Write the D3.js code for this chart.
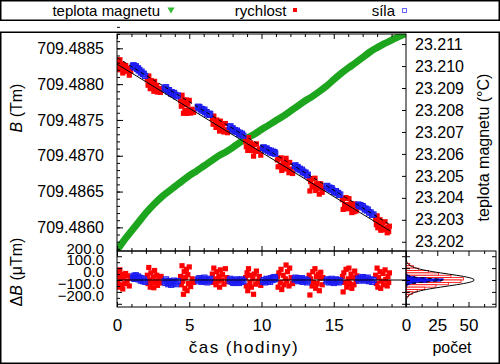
<!DOCTYPE html>
<html>
<head>
<meta charset="utf-8">
<script src="https://cdn.jsdelivr.net/npm/d3@7"></script>
<style>
  body { margin: 0; background: #fff; }
  svg { display: block; font-family: "Liberation Sans", Arial, sans-serif; }
</style>
</head>
<body>
<svg id="chart" width="500" height="364"></svg>
<script>
// --- data ---
const timeTicks  = [0, 5, 10, 15];
const bTicks     = [709.4860, 709.4865, 709.4870, 709.4875, 709.4880, 709.4885];
const tempTicks  = [23.202, 23.203, 23.204, 23.205, 23.206, 23.207, 23.208, 23.209, 23.210, 23.211];
const residTicks = [200, 100, 0, -100, -200];
const countTicks = [0, 25, 50];

// magnet temperature (hours, °C)
const tempTime = [0, 0.5, 1, 1.5, 2, 2.5, 3, 3.5, 4, 4.5, 5, 5.5, 6, 6.5, 7, 7.5, 8, 8.5, 9, 9.5,
  10, 10.5, 11, 11.5, 12, 12.5, 13, 13.5, 14, 14.5, 15, 15.5, 16, 16.5, 17, 17.5, 18, 18.5, 19, 19.5, 20];
const tempValue = [23.20162, 23.20208, 23.20249, 23.20290, 23.20331, 23.20367, 23.20399, 23.20426,
  23.20451, 23.20476, 23.20501, 23.20522, 23.20545, 23.20567, 23.20590, 23.20608, 23.20629, 23.20652,
  23.20672, 23.20690, 23.20711, 23.20731, 23.20752, 23.20772, 23.20795, 23.20818, 23.20841, 23.20861,
  23.20884, 23.20909, 23.20938, 23.20966, 23.20991, 23.21014, 23.21039, 23.21064, 23.21084, 23.21102,
  23.21118, 23.21134, 23.21148];

// linear fits of B (hours, Tm)
const fitSpeed = [[0, 709.48828], [18.9, 709.48595]];   // solid
const fitForce = [[0, 709.48837], [18.8, 709.48605]];   // dashed

// "rychlost" points: [hours, residual in µTm]
const speedPoints = [
  [0.00, 60], [0.05, -20], [0.10, 30], [0.15, -60], [0.20, 85], [0.25, 10], [0.30, -40], [0.35, 45],
  [0.40, -75], [0.45, 20], [0.55, -30], [0.60, 55], [0.70, -10], [0.75, 35], [0.85, -50], [0.95, 15],
  [2.10, 40], [2.15, -30], [2.20, 105], [2.25, 0], [2.30, -60], [2.35, 60], [2.45, -20], [2.50, 25],
  [2.55, -65], [2.60, 80], [2.70, -10], [2.75, 40], [2.80, -45], [2.90, 15], [3.00, -25], [3.05, 30],
  [4.40, 30], [4.45, -40], [4.50, 120], [4.55, -10], [4.60, -120], [4.65, 70], [4.70, -70], [4.75, 20],
  [4.80, 90], [4.85, -90], [4.90, 45], [4.95, -30], [5.00, 110], [5.10, -55], [5.20, 10], [5.30, -20],
  [6.60, 50], [6.65, -20], [6.70, 100], [6.80, 10], [6.85, -40], [6.90, 70], [7.00, -10], [7.05, 30],
  [7.10, -60], [7.15, 85], [7.25, 0], [7.30, 45], [7.40, -35], [7.50, 95], [7.60, 20], [7.65, -15],
  [8.90, 20], [8.95, -50], [9.00, 60], [9.05, -90], [9.10, 95], [9.20, -20], [9.25, 40], [9.30, -60],
  [9.40, 10], [9.45, -120], [9.50, 50], [9.60, -35], [9.65, 75], [9.75, -10], [9.85, 30], [9.95, -45],
  [11.10, 30], [11.15, -60], [11.20, 60], [11.30, -20], [11.35, 90], [11.40, -80], [11.50, 40], [11.55, -40],
  [11.65, 10], [11.70, 126], [11.75, -10], [11.80, 70], [11.90, -50], [11.95, 100], [12.05, 20], [12.15, -30],
  [13.30, 40], [13.35, -126], [13.40, 10], [13.50, -50], [13.55, 70], [13.60, -20], [13.70, 95], [13.75, -70],
  [13.80, 30], [13.85, -30], [13.95, 50], [14.00, -90], [14.05, 15], [14.10, 65], [14.20, -40], [14.25, 20],
  [15.60, 30], [15.65, -100], [15.70, 60], [15.75, -20], [15.85, 90], [15.90, -60], [16.00, 10], [16.05, 100],
  [16.10, -30], [16.20, 50], [16.25, -70], [16.30, 20], [16.40, -40], [16.45, 75], [16.55, -10], [16.60, 35],
  [17.90, 40], [17.95, -30], [18.00, 100], [18.05, -60], [18.10, 20], [18.20, 70], [18.25, -70], [18.30, -10],
  [18.40, 55], [18.45, -40], [18.55, 85], [18.60, 5], [18.70, -50], [18.75, 30], [18.80, -20], [18.85, 60]
];

// "síla" points: [hours, residual in µTm]
const forcePoints = [
  [1.10, 20], [1.15, 35], [1.20, 10], [1.25, 25], [1.30, 40], [1.40, 15], [1.45, 30], [1.50, 5],
  [1.55, 20], [1.65, -5], [1.70, 15], [1.80, -10], [1.85, 5], [1.95, -15],
  [3.30, -10], [3.35, -25], [3.40, 5], [3.50, -20], [3.55, -35], [3.60, -10], [3.70, -25], [3.75, -40],
  [3.80, -15], [3.90, -30], [3.95, -5], [4.05, -20], [4.10, -35], [4.20, -10],
  [5.60, 5], [5.65, -10], [5.70, 15], [5.80, 0], [5.85, -15], [5.90, 10], [6.00, -5], [6.05, 20],
  [6.10, -10], [6.20, 5], [6.25, -20], [6.35, 0], [6.40, -10], [6.45, 10],
  [7.80, -5], [7.85, 10], [7.95, -15], [8.00, 0], [8.05, -25], [8.15, -5], [8.20, -20], [8.30, 5],
  [8.35, -10], [8.45, -25], [8.50, 0], [8.60, -15], [8.65, 5], [8.75, -10],
  [10.10, -15], [10.15, 0], [10.25, -20], [10.30, -5], [10.35, 10], [10.45, -10], [10.50, 5], [10.60, -15],
  [10.65, 15], [10.75, 0], [10.80, 20], [10.85, 5], [10.90, 25], [10.95, 10],
  [12.30, 5], [12.35, 20], [12.45, 0], [12.50, 15], [12.55, -10], [12.65, 10], [12.70, -5], [12.80, 15],
  [12.85, -15], [12.90, 0], [13.00, -10], [13.05, 5], [13.15, -20], [13.20, -5],
  [14.50, -10], [14.55, 5], [14.65, -20], [14.70, 0], [14.80, -15], [14.85, 10], [14.90, -5], [15.00, -25],
  [15.05, -10], [15.15, 5], [15.20, -15], [15.30, 0], [15.35, -20], [15.45, -5],
  [16.70, 10], [16.75, -5], [16.85, 20], [16.90, 5], [17.00, 25], [17.05, 10], [17.15, -5], [17.20, 15],
  [17.30, 0], [17.35, 20], [17.45, -10], [17.55, 5], [17.65, -15], [17.75, 0]
];

// histograms of residuals (bin centre µTm, count)
const speedBinCenter = [130, 110, 90, 70, 50, 30, 10, -10, -30, -50, -70, -90, -110, -130];
const speedBinCount  = [3, 6, 10, 18, 26, 36, 46, 44, 34, 24, 15, 9, 5, 2];
const forceBinCenter = [45, 35, 25, 15, 5, -5, -15, -25, -35, -45];
const forceBinCount  = [1, 3, 7, 16, 30, 28, 17, 8, 3, 1];

// gaussian fits drawn over the histograms (µTm, count)
const speedGaussR     = [-200, -180, -160, -140, -120, -100, -80, -60, -40, -20, 0, 20, 40, 60, 80, 100, 120, 140, 160, 180, 200];
const speedGaussCount = [0.02, 0.08, 0.3, 1.1, 3.1, 7.6, 15.6, 27.3, 40.7, 51.7, 56, 51.7, 40.7, 27.3, 15.6, 7.6, 3.1, 1.1, 0.3, 0.08, 0.02];
const forceGaussR     = [-50, -40, -30, -20, -10, 0, 10, 20, 30, 40, 50];
const forceGaussCount = [0, 0.4, 3, 10.5, 24, 32, 24, 10.5, 3, 0.4, 0];

// --- layout ---
const FONT = '"Liberation Sans", Arial, sans-serif';
const P = { l: 117, r: 406, t: 34, m: 251, b: 307, hr: 496 };

const svg = d3.select("#chart");

const x  = d3.scaleLinear().domain([0, 20]).range([P.l, P.r]);
const yB = d3.scaleLinear().domain([709.48567, 709.48870]).range([P.m, P.t]);
const yT = d3.scaleLinear().domain([23.20158, 23.21146]).range([P.m, P.t]);
const yR = d3.scaleLinear().domain([-227, 244]).range([P.b, P.m]);
const xH = d3.scaleLinear().domain([0, 72]).range([P.r, P.hr]);

// value of a 2-point fit line at time t
function fitAt(fit, t) {
  const [[t0, v0], [t1, v1]] = fit;
  return v0 + (v1 - v0) * (t - t0) / (t1 - t0);
}

// outer boxes
svg.append("rect").attr("x", 0.75).attr("y", 0.75).attr("width", 498.5).attr("height", 19.5)
  .attr("fill", "none").attr("stroke", "#000").attr("stroke-width", 1.5);
svg.append("rect").attr("x", 0.75).attr("y", 32.25).attr("width", 498.5).attr("height", 331)
  .attr("fill", "none").attr("stroke", "#000").attr("stroke-width", 1.5);

// legend
const legend = svg.append("g").attr("font-size", 15).attr("font-family", FONT);
legend.append("text").attr("x", 160).attr("y", 15.5).attr("text-anchor", "end").text("teplota magnetu");
legend.append("path").attr("transform", "translate(171,9.5) rotate(180)")
  .attr("d", d3.symbol(d3.symbolTriangle, 22)()).attr("fill", "#33bb33");
legend.append("text").attr("x", 286.5).attr("y", 15.5).attr("text-anchor", "end").text("rychlost");
legend.append("rect").attr("x", 293).attr("y", 8).attr("width", 4).attr("height", 4).attr("fill", "#ff0000");
legend.append("text").attr("x", 395).attr("y", 15.5).attr("text-anchor", "end").text("síla");
legend.append("rect").attr("x", 402.5).attr("y", 8.5).attr("width", 4).attr("height", 4)
  .attr("fill", "none").attr("stroke", "#6666ff").attr("stroke-width", 1);

// clip paths
const defs = svg.append("defs");
defs.append("clipPath").attr("id", "clipMain").append("rect")
  .attr("x", P.l).attr("y", P.t).attr("width", P.r - P.l).attr("height", P.m - P.t);
defs.append("clipPath").attr("id", "clipRes").append("rect")
  .attr("x", P.l).attr("y", P.m).attr("width", P.r - P.l).attr("height", P.b - P.m);
defs.append("clipPath").attr("id", "clipHist").append("rect")
  .attr("x", P.r).attr("y", P.m).attr("width", P.hr - P.r).attr("height", P.b - P.m);

// --- main panel ---
const main = svg.append("g").attr("clip-path", "url(#clipMain)");

const tempData = tempTime.map((t, i) => [t, tempValue[i]]);
main.append("path").datum(tempData)
  .attr("fill", "none").attr("stroke", "#1ea51e").attr("stroke-width", 7)
  .attr("d", d3.line().x(d => x(d[0])).y(d => yT(d[1])).curve(d3.curveMonotoneX));

const SQ = 5.2;
const BLUE_FILL = "rgba(40,40,255,0.55)";
main.append("g").selectAll("rect").data(speedPoints).join("rect")
  .attr("x", d => x(d[0]) - SQ / 2)
  .attr("y", d => yB(fitAt(fitSpeed, d[0]) + d[1] * 1e-6) - SQ / 2)
  .attr("width", SQ).attr("height", SQ).attr("fill", "#ff0000");

main.append("g").selectAll("rect").data(forcePoints).join("rect")
  .attr("x", d => x(d[0]) - SQ / 2)
  .attr("y", d => yB(fitAt(fitForce, d[0]) + d[1] * 1e-6) - SQ / 2)
  .attr("width", SQ).attr("height", SQ)
  .attr("fill", BLUE_FILL).attr("stroke", "#1a1aee").attr("stroke-width", 1);

const fitLine = d3.line().x(d => x(d[0])).y(d => yB(d[1]));
main.append("path").datum(fitSpeed).attr("d", fitLine)
  .attr("fill", "none").attr("stroke", "#000").attr("stroke-width", 1);
main.append("path").datum(fitForce).attr("d", fitLine)
  .attr("fill", "none").attr("stroke", "#000").attr("stroke-width", 1).attr("stroke-dasharray", "4,3");

// --- residual panel ---
const res = svg.append("g").attr("clip-path", "url(#clipRes)");
res.append("g").selectAll("rect").data(speedPoints).join("rect")
  .attr("x", d => x(d[0]) - SQ / 2).attr("y", d => yR(d[1]) - SQ / 2)
  .attr("width", SQ).attr("height", SQ).attr("fill", "#ff0000");
res.append("g").selectAll("rect").data(forcePoints).join("rect")
  .attr("x", d => x(d[0]) - SQ / 2).attr("y", d => yR(d[1]) - SQ / 2)
  .attr("width", SQ).attr("height", SQ)
  .attr("fill", BLUE_FILL).attr("stroke", "#1a1aee").attr("stroke-width", 1);
res.append("line").attr("x1", P.l).attr("x2", P.r).attr("y1", yR(0)).attr("y2", yR(0))
  .attr("stroke", "#000").attr("stroke-width", 1);

// --- histogram panel ---
const hist = svg.append("g").attr("clip-path", "url(#clipHist)");
hist.append("g").selectAll("rect").data(speedBinCenter).join("rect")
  .attr("x", xH(0)).attr("width", (d, i) => xH(speedBinCount[i]) - xH(0))
  .attr("y", d => yR(d + 10)).attr("height", d => yR(d - 10) - yR(d + 10))
  .attr("fill", "#fff").attr("stroke", "#ff0000").attr("stroke-width", 0.8);
hist.append("g").selectAll("rect").data(forceBinCenter).join("rect")
  .attr("x", xH(0)).attr("width", (d, i) => xH(forceBinCount[i]) - xH(0))
  .attr("y", d => yR(d + 5)).attr("height", d => yR(d - 5) - yR(d + 5))
  .attr("fill", "#2020ff").attr("stroke", "#0000dd").attr("stroke-width", 0.6);

const gaussLine = d3.line().x(d => xH(d[1])).y(d => yR(d[0])).curve(d3.curveBasis);
hist.append("path").datum(speedGaussR.map((r, i) => [r, speedGaussCount[i]]))
  .attr("d", gaussLine).attr("fill", "none").attr("stroke", "#000").attr("stroke-width", 1);
hist.append("path").datum(forceGaussR.map((r, i) => [r, forceGaussCount[i]]))
  .attr("d", gaussLine).attr("fill", "none").attr("stroke", "#000").attr("stroke-width", 1)
  .attr("stroke-dasharray", "4,3");

// --- axes ---
// d3 puts its own font attrs on the group, so ours go on after the call
function addAxis(axis, tx, ty, size = 16) {
  const g = svg.append("g").attr("transform", `translate(${tx},${ty})`).call(axis)
    .attr("font-size", size).attr("font-family", FONT);
  g.select(".domain").remove();
  return g;
}
const noLabel = () => "";

// time ticks on main panel top/bottom and residual top/bottom, pointing inward
const timeMinor = d3.range(0, 20, 1).filter(v => v % 5 !== 0);
[[P.t, d3.axisTop], [P.m, d3.axisBottom], [P.m, d3.axisTop], [P.b, d3.axisBottom]]
  .forEach(([yy, fn]) => {
    addAxis(fn(x).tickValues(timeTicks).tickSize(-5).tickFormat(noLabel), 0, yy);
    addAxis(fn(x).tickValues(timeMinor).tickSize(-3).tickFormat(noLabel), 0, yy);
  });
addAxis(d3.axisBottom(x).tickValues(timeTicks).tickSize(0).tickPadding(12).tickFormat(d3.format("d")), 0, P.b, 17);

// B axis
addAxis(d3.axisLeft(yB).tickValues(bTicks).tickSize(-6).tickPadding(13).tickFormat(d3.format(".4f")), P.l, 0);
addAxis(d3.axisLeft(yB).tickValues(d3.range(709.4857, 709.4888, 0.0001)).tickSize(-3).tickFormat(noLabel), P.l, 0);

// temperature axis
addAxis(d3.axisRight(yT).tickValues(tempTicks).tickSize(-4).tickPadding(9).tickFormat(d3.format(".3f")), P.r, 0);

// residual axis (labels sit a little above their ticks in the original)
const resAx = addAxis(d3.axisLeft(yR).tickValues(residTicks).tickSize(-5).tickPadding(13).tickFormat(d3.format(".1f")), P.l, 0, 15);
resAx.selectAll("text").attr("y", -8);
addAxis(d3.axisLeft(yR).tickValues([150, 50, -50, -150]).tickSize(-3).tickFormat(noLabel), P.l, 0);
addAxis(d3.axisRight(yR).tickValues(residTicks).tickSize(-4).tickFormat(noLabel), P.r, 0);
addAxis(d3.axisLeft(yR).tickValues(residTicks).tickSize(-4).tickFormat(noLabel), P.r, 0);
addAxis(d3.axisLeft(yR).tickValues(residTicks).tickSize(4).tickFormat(noLabel), P.hr, 0);

// histogram count axis
addAxis(d3.axisBottom(xH).tickValues(countTicks).tickSize(-5).tickPadding(12).tickFormat(d3.format("d")), 0, P.b, 17);
addAxis(d3.axisTop(xH).tickValues(countTicks).tickSize(-5).tickFormat(noLabel), 0, P.m);
addAxis(d3.axisBottom(xH).tickValues([12.5, 37.5, 62.5]).tickSize(-3).tickFormat(noLabel), 0, P.b);
addAxis(d3.axisTop(xH).tickValues([12.5, 37.5, 62.5]).tickSize(-3).tickFormat(noLabel), 0, P.m);

// panel frames
[[P.l, P.t, P.r - P.l, P.m - P.t], [P.l, P.m, P.r - P.l, P.b - P.m], [P.r, P.m, P.hr - P.r, P.b - P.m]]
  .forEach(([rx, ry, rw, rh]) => {
    svg.append("rect").attr("x", rx).attr("y", ry).attr("width", rw).attr("height", rh)
      .attr("fill", "none").attr("stroke", "#000").attr("stroke-width", 1);
  });

// axis titles
const titles = svg.append("g").attr("font-size", 16).attr("font-family", FONT).attr("text-anchor", "middle");
const tB = titles.append("text").attr("transform", "translate(22,108) rotate(-90)");
tB.append("tspan").attr("font-style", "italic").text("B");
tB.append("tspan").text(" (Tm)");
const tdB = titles.append("text").attr("transform", "translate(22,272) rotate(-90)");
tdB.append("tspan").text("Δ");
tdB.append("tspan").attr("font-style", "italic").text("B");
tdB.append("tspan").text(" (μTm)");
titles.append("text").attr("transform", "translate(489,147.5) rotate(-90)").text("teplota magnetu (°C)");
titles.append("text").attr("x", 244).attr("y", 353).attr("font-size", 17)
  .attr("letter-spacing", 1.5).text("čas (hodiny)");
titles.append("text").attr("x", 452).attr("y", 353).text("počet");
</script>
</body>
</html>
